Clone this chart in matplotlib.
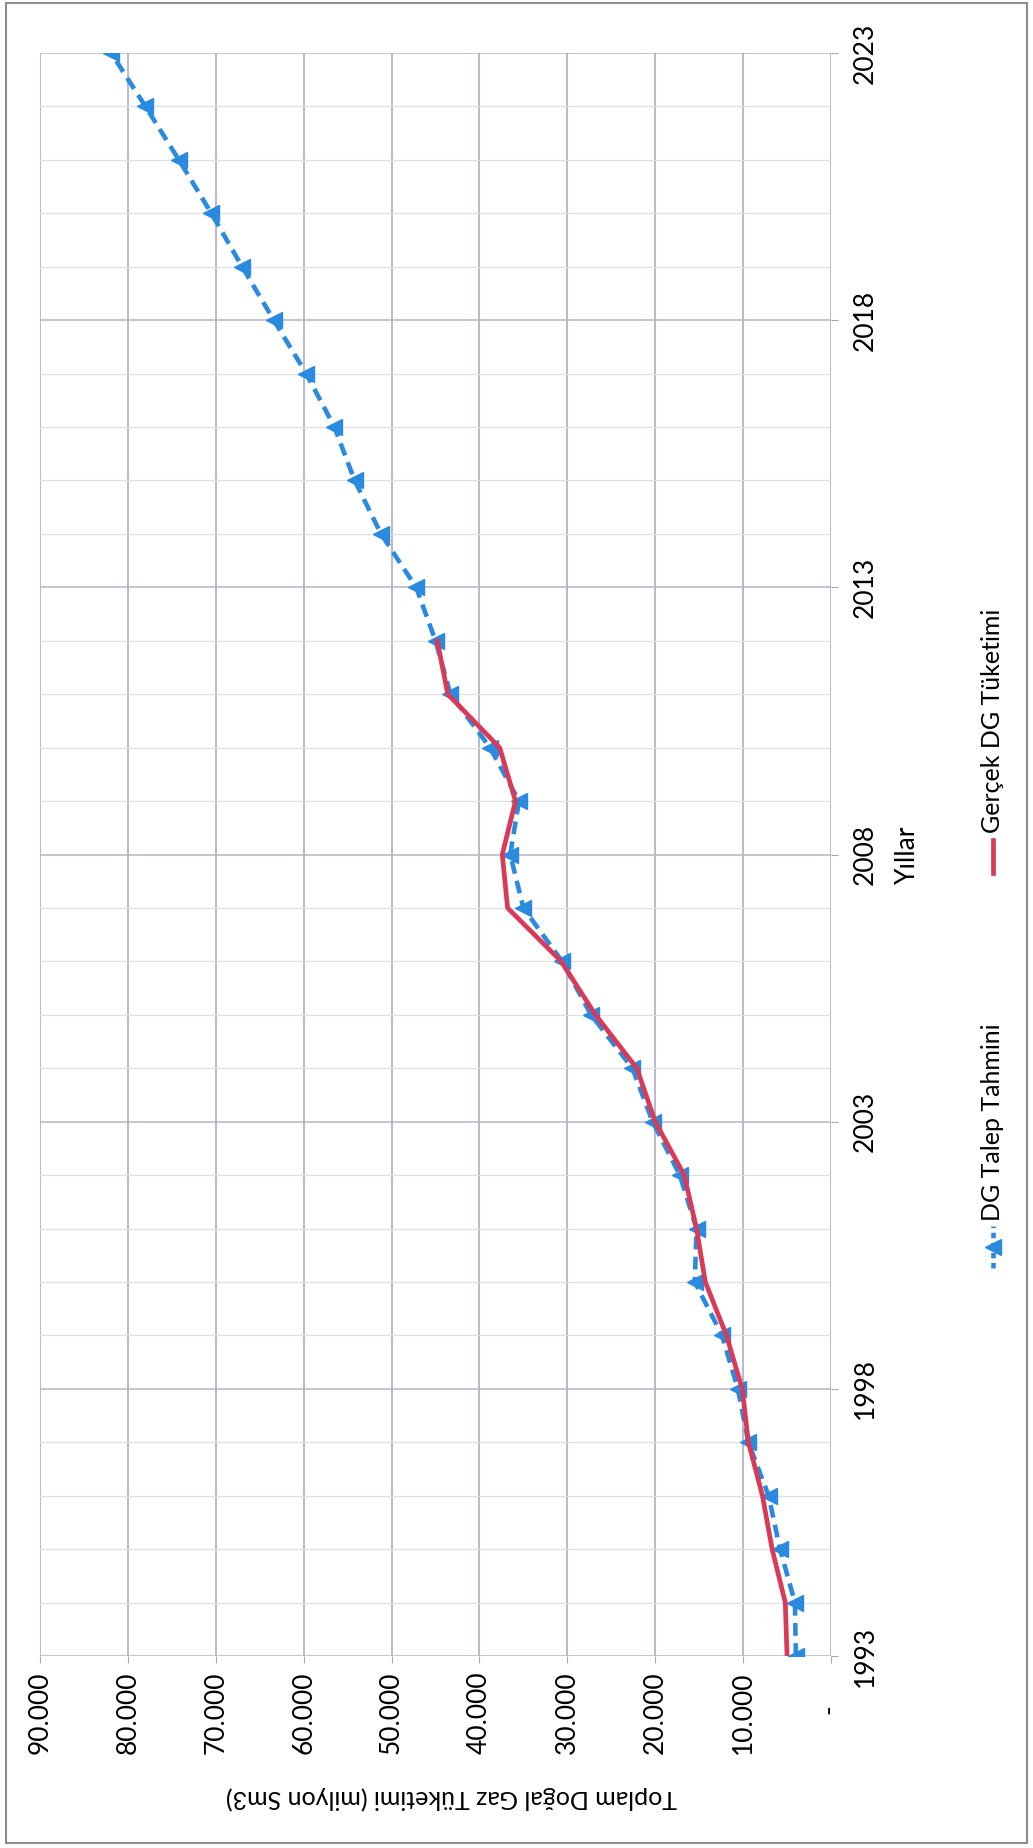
import matplotlib.pyplot as plt
from matplotlib.lines import Line2D
from matplotlib.patches import Rectangle
from matplotlib.ticker import MultipleLocator

plt.rcParams['font.family'] = ['Lato', 'DejaVu Sans']

# forecast 1993-2023, realised consumption 1993-2012 (million Sm3)
years = list(range(1993, 2024))
forecast = [4000, 4100, 5800, 7100, 9400, 10600, 12400, 15500, 15300, 17200,
            20300, 22600, 27300, 30600, 35000, 36500, 35500, 38800, 43300, 45000,
            47200, 51200, 54200, 56500, 59700, 63400, 67000, 70500, 74200, 78000,
            81900]
actual_years = list(range(1993, 2013))
actual = [5000, 5200, 6700, 7800, 9400, 10100, 11900, 14300, 15300, 16700,
          20000, 22100, 26800, 30700, 36800, 37400, 35900, 37700, 43600, 44800]

value_ticks = [0, 10000, 20000, 30000, 40000, 50000, 60000, 70000, 80000, 90000]
value_labels = ['-     ', '10.000', '20.000', '30.000', '40.000', '50.000',
                '60.000', '70.000', '80.000', '90.000']
year_ticks = [1993, 1998, 2003, 2008, 2013, 2018, 2023]

blue = '#2a8ae0'
red = '#d83a58'
grid_dark = '#a6a6be'

W, H = 1033, 1848
fig = plt.figure(figsize=(W / 100, H / 100), dpi=100)
ax = fig.add_axes([40 / W, 1 - 1656 / H, 791 / W, 1603 / H])

# the whole chart is laid out turned a quarter turn: years run upward,
# consumption grows to the left
ax.plot(forecast, years, color=blue, lw=3.3, ls=(0, (2.8, 1.6)),
        marker='<', ms=11, mec=blue, mfc=blue, zorder=3)
ax.plot(actual, actual_years, color=red, lw=3.4, zorder=4)

ax.set_xlim(90000, 0)
ax.set_ylim(1993, 2023)

ax.set_xticks(value_ticks)
ax.set_xticklabels(value_labels)
ax.set_yticks(year_ticks)
ax.yaxis.set_minor_locator(MultipleLocator(1))
ax.yaxis.tick_right()

ax.tick_params(axis='x', labelrotation=90, labelsize=19, length=5,
               color=grid_dark, pad=6)
ax.tick_params(axis='y', which='major', labelrotation=90, labelsize=19,
               length=5, color=grid_dark, pad=11)
ax.tick_params(axis='y', which='minor', length=0)
for lab in ax.get_yticklabels():
    lab.set_va('center')
for lab in ax.get_xticklabels():
    lab.set_va('top')

ax.grid(axis='x', color=grid_dark, lw=1.1)
ax.grid(axis='y', which='major', color='#b4b4c8', lw=1.1)
ax.grid(axis='y', which='minor', color='#dfdfe8', lw=0.9)
for s in ax.spines.values():
    s.set_visible(False)

ax.set_xlabel('Toplam Doğal Gaz Tüketimi (milyon Sm3)', fontsize=18, rotation=180)
ax.xaxis.set_label_coords(0.52, -0.0885)
ax.xaxis.label.set(ha='center', va='center')

ax.yaxis.set_label_position('right')
ax.set_ylabel('Yıllar', fontsize=19)
ax.yaxis.label.set(rotation=90, rotation_mode='default', ha='center', va='center')
ax.yaxis.set_label_coords(1.097, 0.5)

# legend, drawn turned like the rest of the chart
lx = 993 / W
fig.add_artist(Line2D([lx, lx], [1 - 1268 / H, 1 - 1226 / H], color=blue, lw=3.3,
                      ls=(0, (1.2, 1.0)), transform=fig.transFigure))
fig.add_artist(Line2D([lx], [1 - 1247 / H], color=blue, marker='<', ms=11,
                      transform=fig.transFigure))
fig.text(lx, 1 - 1221 / H, 'DG Talep Tahmini', rotation=90, fontsize=18,
         ha='center', va='bottom')
fig.add_artist(Line2D([lx, lx], [1 - 873 / H, 1 - 840 / H], color=red, lw=3.4,
                      transform=fig.transFigure))
fig.text(lx, 1 - 833 / H, 'Gerçek DG Tüketimi', rotation=90, fontsize=18,
         ha='center', va='bottom')

fig.add_artist(Rectangle((6 / W, 1 - 1843 / H), 1021 / W, 1840 / H, fill=False,
                         edgecolor='#8c8c8c', lw=1.5, transform=fig.transFigure))

fig.savefig('out.png', dpi=100)
